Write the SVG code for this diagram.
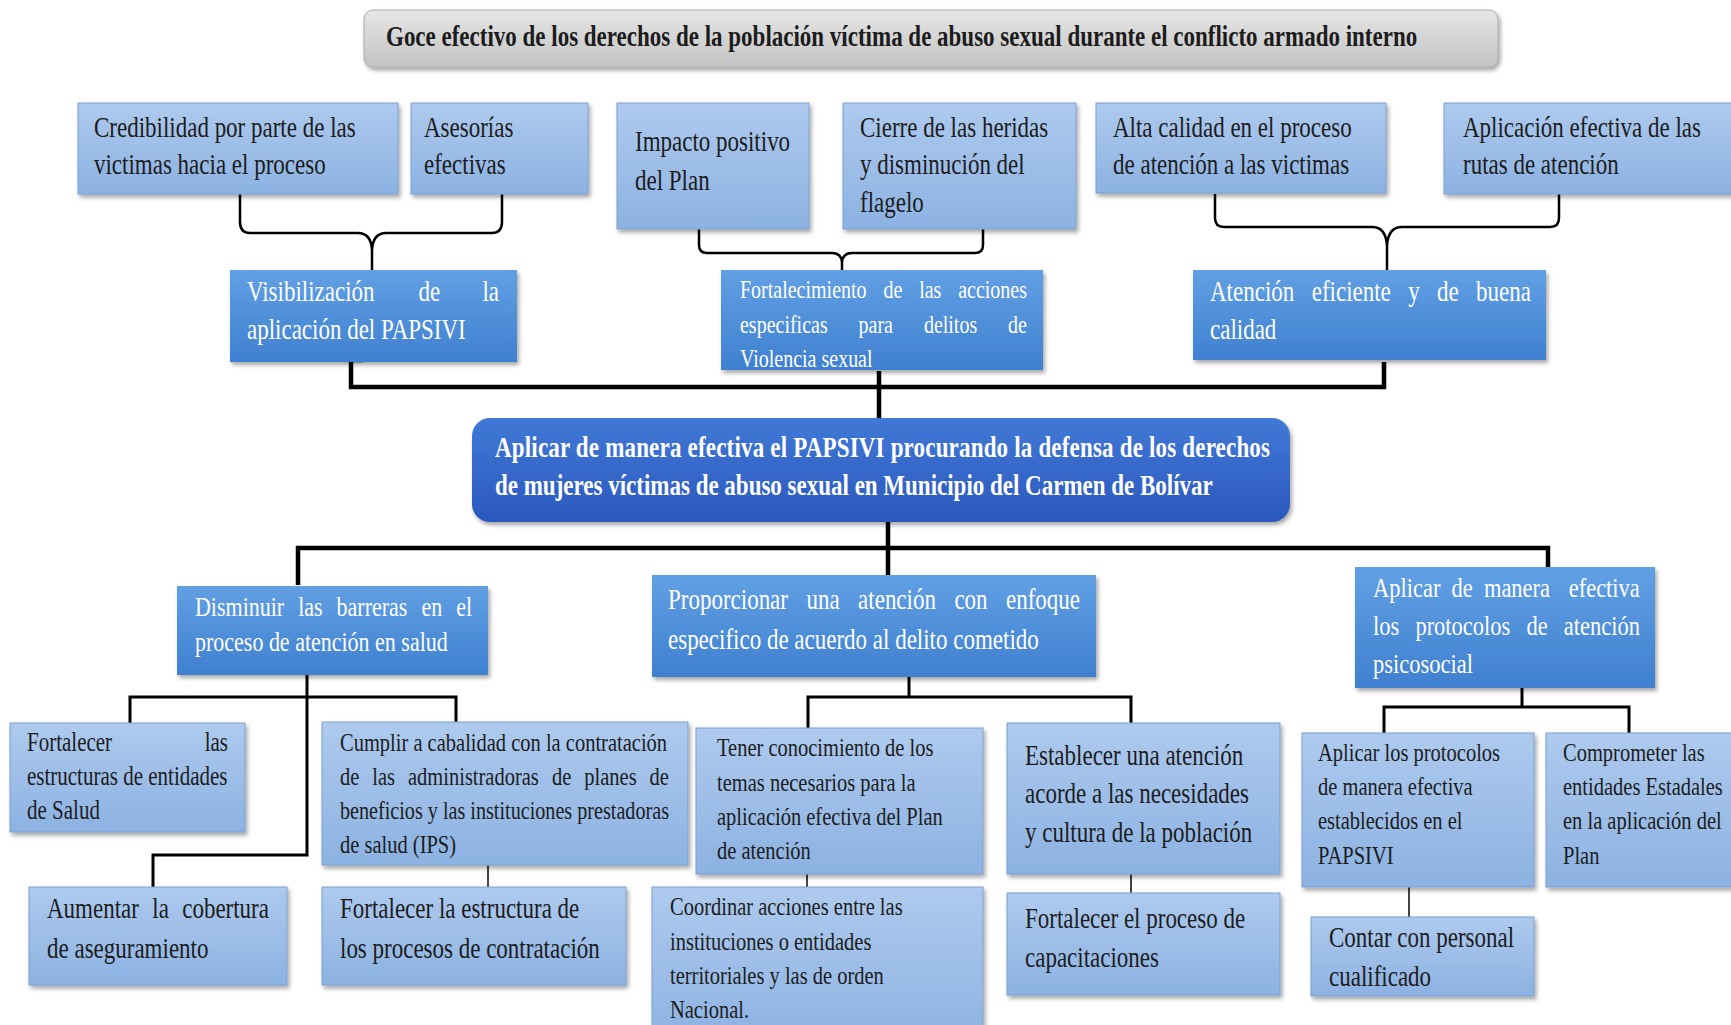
<svg xmlns="http://www.w3.org/2000/svg" width="1731" height="1025" viewBox="0 0 1731 1025">
<defs>
<linearGradient id="gl" x1="0" y1="0" x2="0" y2="1"><stop offset="0" stop-color="#aecaee"/><stop offset="1" stop-color="#8cb2e2"/></linearGradient>
<linearGradient id="gm" x1="0" y1="0" x2="0" y2="1"><stop offset="0" stop-color="#62a0e4"/><stop offset="1" stop-color="#3f80d0"/></linearGradient>
<linearGradient id="gc" x1="0" y1="0" x2="0" y2="1"><stop offset="0" stop-color="#4179d6"/><stop offset="1" stop-color="#2a58bd"/></linearGradient>
<linearGradient id="gg" x1="0" y1="0" x2="0" y2="1"><stop offset="0" stop-color="#e6e6e6"/><stop offset="1" stop-color="#c3c3c3"/></linearGradient>
<filter id="sh" x="-10%" y="-10%" width="120%" height="130%"><feDropShadow dx="2" dy="3" stdDeviation="2" flood-color="#000" flood-opacity="0.35"/></filter>
<clipPath id="cf"><rect x="721" y="270" width="322" height="99"/></clipPath>
</defs>
<style>
.lb{fill:url(#gl);stroke:#7d9fcf;stroke-width:1;filter:url(#sh)}
.mb{fill:url(#gm);filter:url(#sh)}
.cb{fill:url(#gc);filter:url(#sh)}
.tb{fill:url(#gg);stroke:#aaaaaa;stroke-width:1;filter:url(#sh)}
text{font-family:"Liberation Serif","Times New Roman",serif;transform:translate(0px,3px) scale(1,1.25);transform-origin:0 0;transform-box:view-box}
.d{fill:#1c1c1c}
.w{fill:#ffffff}
.b{font-weight:bold}
.c path{fill:none;stroke:#000;stroke-linejoin:miter}
.k{stroke-width:4.5}
.m{stroke-width:3}
.br{stroke-width:2.5}
.s{stroke:#444 !important;stroke-width:2}
</style>
<rect width="1731" height="1025" fill="#ffffff"/>

<g id="connectors" class="c">
<path class="br" d="M240,194 V222 Q240,233 250,233 H358 Q371,233 372,250 Q373,233 386,233 H492 Q502,233 502,222 V194 M372,250 V271"/>
<path class="br" d="M699,229 V245 Q699,253 707,253 H832 Q841,253 842,262 Q843,253 852,253 H975 Q983,253 983,245 V229 M842,262 V271"/>
<path class="br" d="M1215,194 V218 Q1215,227 1224,227 H1372 Q1386,227 1387,246 Q1388,227 1402,227 H1550 Q1559,227 1559,218 V194 M1387,246 V271"/>
<path class="k" d="M363,360 H351 V387 H1384 V362 M879,371 V418"/>
<path class="k" d="M298,585 V548 H1548 V567 M888,522 V575"/>
<path class="m" d="M307,675 V855 H153 V887 M130,723 V697 H456 V722"/>
<path class="m" d="M909,677 V697 M808,728 V697 H1131 V723"/>
<path class="m" d="M1522,688 V707 M1384,733 V707 H1629 V733"/>
<path class="s" d="M488,865 V887 M807,874 V887 M1131,874 V893 M1409,887 V917"/>
</g>

<g id="n-goce"><rect class="tb" x="364" y="10" width="1134" height="57" rx="9"/>
<text class="d b" font-size="23" x="386" y="34.4">Goce efectivo de los derechos de la población víctima de abuso sexual durante el conflicto armado interno</text></g>

<g id="n-credibilidad"><rect class="lb" x="78" y="103" width="320" height="91"/>
<text class="d" font-size="23"><tspan x="94" y="107.2">Credibilidad por parte de las</tspan><tspan x="94" y="136.8">victimas hacia el proceso</tspan></text></g>

<g id="n-asesorias"><rect class="lb" x="411" y="103" width="177" height="91"/>
<text class="d" font-size="23"><tspan x="424" y="107.2">Asesorías</tspan><tspan x="424" y="136.8">efectivas</tspan></text></g>

<g id="n-impacto"><rect class="lb" x="617" y="103" width="192" height="126"/>
<text class="d" font-size="23"><tspan x="635" y="118.4">Impacto positivo</tspan><tspan x="635" y="149.6">del Plan</tspan></text></g>

<g id="n-cierre"><rect class="lb" x="843" y="103" width="233" height="126"/>
<text class="d" font-size="23"><tspan x="860" y="107.2">Cierre de las heridas</tspan><tspan x="860" y="136.8">y disminución del</tspan><tspan x="860" y="167.2">flagelo</tspan></text></g>

<g id="n-alta"><rect class="lb" x="1096" y="103" width="290" height="90"/>
<text class="d" font-size="23"><tspan x="1113" y="107.2">Alta calidad en el proceso</tspan><tspan x="1113" y="136.8">de atención a las victimas</tspan></text></g>

<g id="n-rutas"><rect class="lb" x="1444" y="103" width="300" height="91"/>
<text class="d" font-size="23"><tspan x="1463" y="107.2">Aplicación efectiva de las</tspan><tspan x="1463" y="136.8">rutas de atención</tspan></text></g>

<g id="n-visibilizacion"><rect class="mb" x="230" y="270" width="287" height="92"/>
<text class="w" font-size="23"><tspan x="247" y="238.4">Visibilización</tspan><tspan x="418.4" y="238.4">de</tspan><tspan x="482.4" y="238.4">la</tspan><tspan x="247" y="268.8">aplicación del PAPSIVI</tspan></text></g>

<g id="n-fortalecimiento"><rect class="mb" x="721" y="270" width="322" height="100"/>
<g clip-path="url(#cf)"><text class="w" font-size="20"><tspan x="740" y="236">Fortalecimiento</tspan><tspan x="883.5" y="236">de</tspan><tspan x="919.2" y="236">las</tspan><tspan x="958.2" y="236">acciones</tspan><tspan x="740" y="264">especificas</tspan><tspan x="858.6" y="264">para</tspan><tspan x="923.9" y="264">delitos</tspan><tspan x="1008.1" y="264">de</tspan><tspan x="740" y="291.2">Violencia sexual</tspan></text></g></g>

<g id="n-atencion"><rect class="mb" x="1193" y="270" width="353" height="90"/>
<text class="w" font-size="23"><tspan x="1210" y="238.4">Atención</tspan><tspan x="1311.7" y="238.4">eficiente</tspan><tspan x="1408.2" y="238.4">y</tspan><tspan x="1437.1" y="238.4">de</tspan><tspan x="1476.1" y="238.4">buena</tspan><tspan x="1210" y="268.8">calidad</tspan></text></g>

<g id="n-central"><rect class="cb" x="472" y="418" width="818" height="104" rx="18"/>
<text class="w b" font-size="23"><tspan x="495" y="363.2" textLength="775" lengthAdjust="spacing">Aplicar de manera efectiva el PAPSIVI procurando la defensa de los derechos</tspan><tspan x="495" y="393.6">de mujeres víctimas de abuso sexual en Municipio del Carmen de Bolívar</tspan></text></g>

<g id="n-disminuir"><rect class="mb" x="177" y="586" width="311" height="89"/>
<text class="w" font-size="22"><tspan x="195" y="490.4">Disminuir</tspan><tspan x="298.2" y="490.4">las</tspan><tspan x="336.6" y="490.4">barreras</tspan><tspan x="421.4" y="490.4">en</tspan><tspan x="456.2" y="490.4">el</tspan><tspan x="195" y="518.4">proceso de atención en salud</tspan></text></g>

<g id="n-proporcionar"><rect class="mb" x="652" y="575" width="444" height="102"/>
<text class="w" font-size="23"><tspan x="668" y="484.8">Proporcionar</tspan><tspan x="806.5" y="484.8">una</tspan><tspan x="858.1" y="484.8">atención</tspan><tspan x="954.4" y="484.8">con</tspan><tspan x="1006" y="484.8">enfoque</tspan><tspan x="668" y="516.8">especifico de acuerdo al delito cometido</tspan></text></g>

<g id="n-aplicar-protocolos-psico"><rect class="mb" x="1355" y="567" width="300" height="121"/>
<text class="w" font-size="22.5"><tspan x="1373" y="475.2">Aplicar</tspan><tspan x="1451.6" y="475.2">de</tspan><tspan x="1483.9" y="475.2">manera</tspan><tspan x="1568.7" y="475.2">efectiva</tspan><tspan x="1373" y="505.6">los</tspan><tspan x="1415.4" y="505.6">protocolos</tspan><tspan x="1526.5" y="505.6">de</tspan><tspan x="1563.8" y="505.6">atención</tspan><tspan x="1373" y="536">psicosocial</tspan></text></g>

<g id="n-fortalecer-estructuras"><rect class="lb" x="10" y="723" width="235" height="109"/>
<text class="d" font-size="21"><tspan x="27" y="598.4">Fortalecer</tspan><tspan x="204.7" y="598.4">las</tspan><tspan x="27" y="625.6">estructuras de entidades</tspan><tspan x="27" y="652.8">de Salud</tspan></text></g>

<g id="n-cumplir"><rect class="lb" x="322" y="722" width="366" height="143"/>
<text class="d" font-size="20.5"><tspan x="340" y="598.4">Cumplir a cabalidad con la contratación</tspan><tspan x="340" y="625.6">de</tspan><tspan x="372.3" y="625.6">las</tspan><tspan x="408" y="625.6">administradoras</tspan><tspan x="552" y="625.6">de</tspan><tspan x="584.3" y="625.6">planes</tspan><tspan x="649.6" y="625.6">de</tspan><tspan x="340" y="652.8" textLength="329" lengthAdjust="spacingAndGlyphs">beneficios y las instituciones prestadoras</tspan><tspan x="340" y="680">de salud (IPS)</tspan></text></g>

<g id="n-tener"><rect class="lb" x="696" y="728" width="287" height="146"/>
<text class="d" font-size="20.5"><tspan x="717" y="602.4">Tener conocimiento de los</tspan><tspan x="717" y="630.4">temas necesarios para la</tspan><tspan x="717" y="657.6">aplicación efectiva del Plan</tspan><tspan x="717" y="684.8">de atención</tspan></text></g>

<g id="n-establecer"><rect class="lb" x="1007" y="723" width="273" height="151"/>
<text class="d" font-size="23"><tspan x="1025" y="609.6">Establecer una atención</tspan><tspan x="1025" y="640">acorde a las necesidades</tspan><tspan x="1025" y="671.2">y cultura de la población</tspan></text></g>

<g id="n-aplicar-protocolos"><rect class="lb" x="1302" y="733" width="232" height="154"/>
<text class="d" font-size="20.5"><tspan x="1318" y="606.4">Aplicar los protocolos</tspan><tspan x="1318" y="633.6">de manera efectiva</tspan><tspan x="1318" y="660.8">establecidos en el</tspan><tspan x="1318" y="688.8">PAPSIVI</tspan></text></g>

<g id="n-comprometer"><rect class="lb" x="1546" y="733" width="200" height="154"/>
<text class="d" font-size="20.5"><tspan x="1563" y="606.4">Comprometer las</tspan><tspan x="1563" y="633.6">entidades Estadales</tspan><tspan x="1563" y="660.8">en la aplicación del</tspan><tspan x="1563" y="688.8">Plan</tspan></text></g>

<g id="n-aumentar"><rect class="lb" x="29" y="887" width="258" height="98"/>
<text class="d" font-size="23"><tspan x="47" y="732">Aumentar</tspan><tspan x="152.3" y="732">la</tspan><tspan x="182.2" y="732">cobertura</tspan><tspan x="47" y="764">de aseguramiento</tspan></text></g>

<g id="n-fortalecer-contratacion"><rect class="lb" x="322" y="887" width="304" height="98"/>
<text class="d" font-size="23"><tspan x="340" y="732">Fortalecer la estructura de</tspan><tspan x="340" y="764">los procesos de contratación</tspan></text></g>

<g id="n-coordinar"><rect class="lb" x="652" y="887" width="331" height="160"/>
<text class="d" font-size="20.5"><tspan x="670" y="729.6">Coordinar acciones entre las</tspan><tspan x="670" y="757.6">instituciones o entidades</tspan><tspan x="670" y="784.8">territoriales y las de orden</tspan><tspan x="670" y="812">Nacional.</tspan></text></g>

<g id="n-capacitaciones"><rect class="lb" x="1007" y="893" width="273" height="102"/>
<text class="d" font-size="23"><tspan x="1025" y="740">Fortalecer el proceso de</tspan><tspan x="1025" y="771.2">capacitaciones</tspan></text></g>

<g id="n-contar"><rect class="lb" x="1311" y="917" width="223" height="79"/>
<text class="d" font-size="23"><tspan x="1329" y="755.2">Contar con personal</tspan><tspan x="1329" y="786.4">cualificado</tspan></text></g>
</svg>
